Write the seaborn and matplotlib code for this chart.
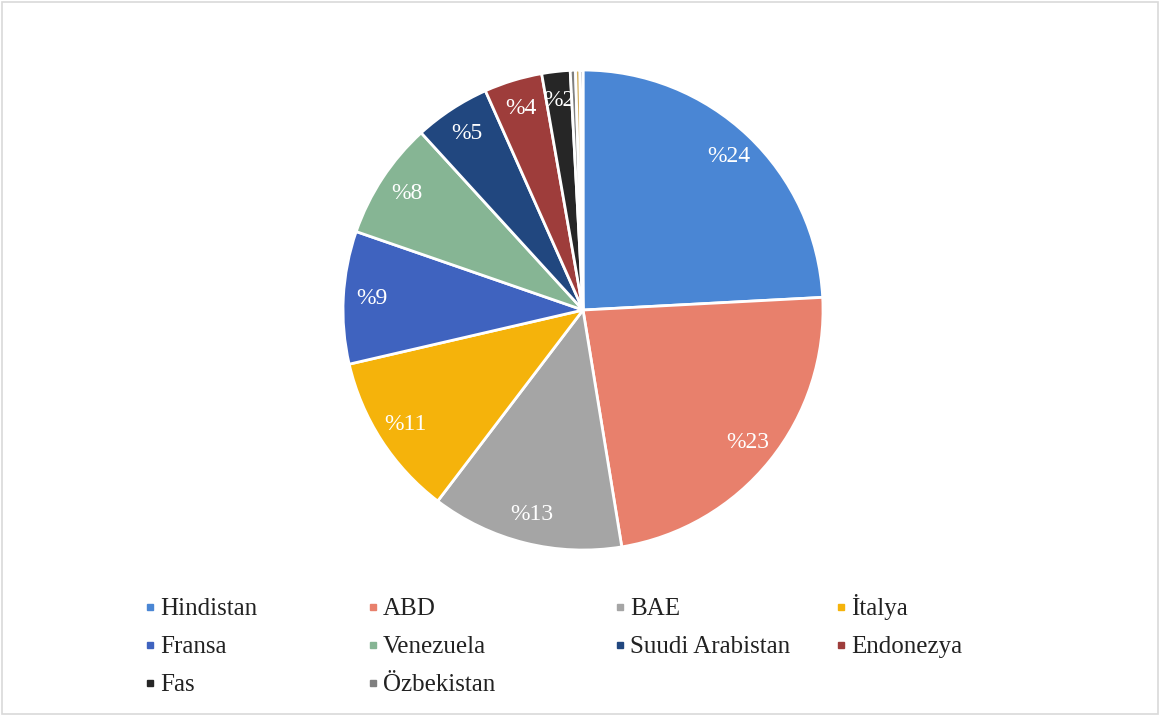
import matplotlib.pyplot as plt
import seaborn as sns
from matplotlib.lines import Line2D
from matplotlib.patches import Rectangle

# veriler (grafikten okunan yuzdeler)
ulkeler = ["Hindistan", "ABD", "BAE", "İtalya", "Fransa", "Venezuela",
           "Suudi Arabistan", "Endonezya", "Fas", "Özbekistan", "Diğer 1", "Diğer 2"]
oranlar = [24.1, 23.2, 12.9, 11.0, 8.9, 7.9, 5.1, 3.9, 1.9, 0.35, 0.3, 0.2]
renkler = ["#4a86d4", "#e8806c", "#a5a5a5", "#f5b30b", "#3f63bf", "#86b594",
           "#21477f", "#9e3d3b", "#262626", "#7f7f7f", "#d4b060", "#2a3550"]
legend_sayisi = 10  # lejantta gorunen ulke sayisi

sns.set_theme(style="white")
plt.rcParams['font.family'] = ['Liberation Serif', 'DejaVu Serif']

W, H = 1160, 716
fig = plt.figure(figsize=(W / 100, H / 100), dpi=100)
ax = fig.add_axes([0.2957, 0.2318, 0.4138, 0.6704])

wedges, texts, autotexts = ax.pie(
    oranlar, colors=renkler, startangle=90, counterclock=False,
    autopct=lambda p: f"%{p:.0f}" if p >= 1.5 else "",
    pctdistance=0.88,
    wedgeprops=dict(edgecolor="white", linewidth=2),
    textprops=dict(color="white", fontsize=17))
ax.set_xlim(-1, 1)
ax.set_ylim(-1, 1)
ax.set_aspect("equal")

# lejant: 4 sutun, 3 satir (isaret + metin, taban cizgisine hizali)
isaret_x = [150, 373, 620, 841]
satir_y = [607, 645, 683]
for i in range(legend_sayisi):
    r, c = divmod(i, 4)
    fig.add_artist(Line2D([isaret_x[c] / W], [1 - satir_y[r] / H], marker="s",
                          linestyle="", markersize=4.5, color=renkler[i],
                          transform=fig.transFigure))
    fig.text((isaret_x[c] + 10) / W, 1 - (satir_y[r] + 8) / H, ulkeler[i],
             fontsize=18, color="#222222", ha="left", va="baseline")

# grafik alani cercevesi
fig.patches.append(Rectangle((0.002, 0.003), 0.996, 0.994, transform=fig.transFigure,
                             fill=False, edgecolor="#d9d9d9", linewidth=1.2))

plt.savefig("out.png", dpi=100)
